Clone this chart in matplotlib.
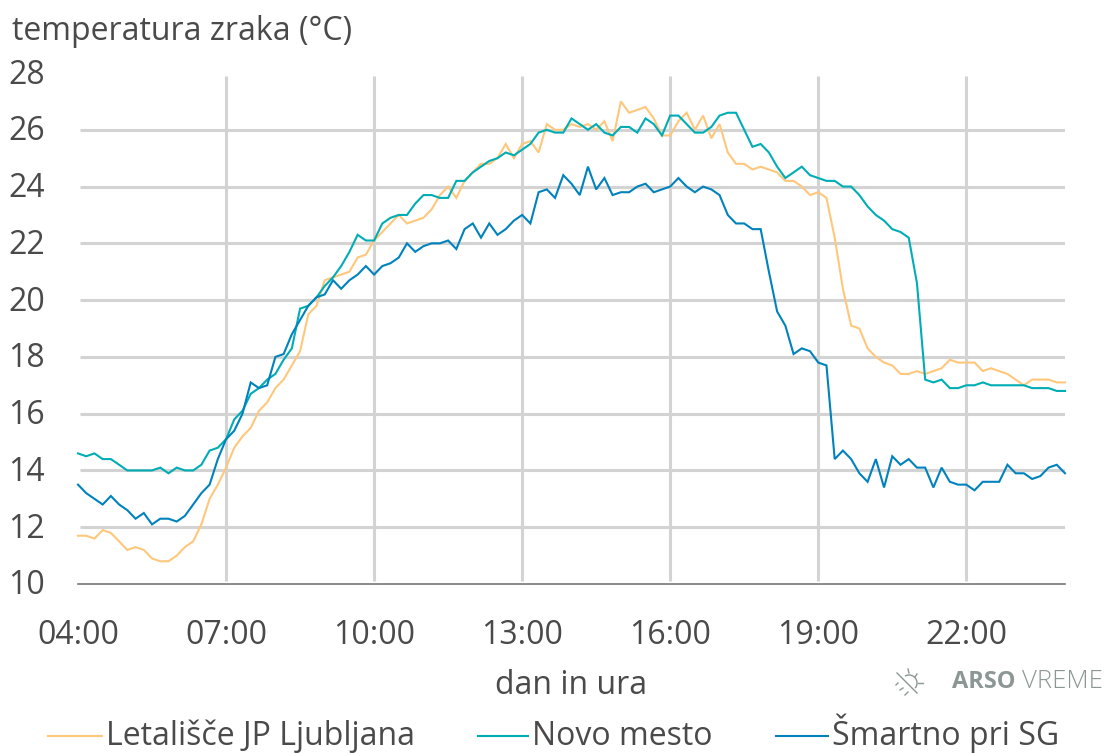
#!/usr/bin/env python
import matplotlib
matplotlib.use('Agg')
import numpy as np
import matplotlib.pyplot as plt
from matplotlib.lines import Line2D
from matplotlib.transforms import ScaledTranslation

plt.rcParams['font.family'] = ['Open Sans', 'DejaVu Sans']

# 10 minute samples, 04:00 to 24:00
ljubljana = [11.7, 11.7, 11.6, 11.9, 11.8, 11.5, 11.2, 11.3, 11.2, 10.9, 10.8, 10.8, 11.0, 11.3, 11.5, 12.1, 13.0, 13.5,
             14.1, 14.8, 15.2, 15.5, 16.1, 16.4, 16.9, 17.2, 17.7, 18.2, 19.5, 19.8, 20.7, 20.8, 20.9, 21.0, 21.5, 21.6,
             22.1, 22.4, 22.7, 23.0, 22.7, 22.8, 22.9, 23.2, 23.7, 24.0, 23.6, 24.2, 24.5, 24.8, 24.8, 25.0, 25.5, 25.0,
             25.5, 25.6, 25.2, 26.2, 26.0, 26.0, 26.2, 26.1, 26.2, 26.0, 26.3, 25.6, 27.0, 26.6, 26.7, 26.8, 26.4, 25.8,
             25.8, 26.3, 26.6, 26.0, 26.5, 25.7, 26.2, 25.2, 24.8, 24.8, 24.6, 24.7, 24.6, 24.5, 24.2, 24.2, 24.0, 23.7,
             23.8, 23.6, 22.2, 20.4, 19.1, 19.0, 18.3, 18.0, 17.8, 17.7, 17.4, 17.4, 17.5, 17.4, 17.5, 17.6, 17.9, 17.8,
             17.8, 17.8, 17.5, 17.6, 17.5, 17.4, 17.2, 17.0, 17.2, 17.2, 17.2, 17.1, 17.1]
novo_mesto = [14.6, 14.5, 14.6, 14.4, 14.4, 14.2, 14.0, 14.0, 14.0, 14.0, 14.1, 13.9, 14.1, 14.0, 14.0, 14.2, 14.7, 14.8,
              15.1, 15.8, 16.1, 16.7, 16.9, 17.2, 17.4, 17.9, 18.3, 19.7, 19.8, 20.1, 20.5, 20.8, 21.2, 21.7, 22.3, 22.1,
              22.1, 22.7, 22.9, 23.0, 23.0, 23.4, 23.7, 23.7, 23.6, 23.6, 24.2, 24.2, 24.5, 24.7, 24.9, 25.0, 25.2, 25.1,
              25.3, 25.5, 25.9, 26.0, 25.9, 25.9, 26.4, 26.2, 26.0, 26.2, 25.9, 25.8, 26.1, 26.1, 25.9, 26.4, 26.2, 25.8,
              26.5, 26.5, 26.2, 25.9, 25.9, 26.1, 26.5, 26.6, 26.6, 26.0, 25.4, 25.5, 25.2, 24.7, 24.3, 24.5, 24.7, 24.4,
              24.3, 24.2, 24.2, 24.0, 24.0, 23.7, 23.3, 23.0, 22.8, 22.5, 22.4, 22.2, 20.6, 17.2, 17.1, 17.2, 16.9, 16.9,
              17.0, 17.0, 17.1, 17.0, 17.0, 17.0, 17.0, 17.0, 16.9, 16.9, 16.9, 16.8, 16.8]
smartno = [13.5, 13.2, 13.0, 12.8, 13.1, 12.8, 12.6, 12.3, 12.5, 12.1, 12.3, 12.3, 12.2, 12.4, 12.8, 13.2, 13.5, 14.4,
           15.1, 15.4, 16.0, 17.1, 16.9, 17.0, 18.0, 18.1, 18.8, 19.3, 19.8, 20.1, 20.2, 20.7, 20.4, 20.7, 20.9, 21.2,
           20.9, 21.2, 21.3, 21.5, 22.0, 21.7, 21.9, 22.0, 22.0, 22.1, 21.8, 22.5, 22.7, 22.2, 22.7, 22.3, 22.5, 22.8,
           23.0, 22.7, 23.8, 23.9, 23.6, 24.4, 24.1, 23.7, 24.7, 23.9, 24.3, 23.7, 23.8, 23.8, 24.0, 24.1, 23.8, 23.9,
           24.0, 24.3, 24.0, 23.8, 24.0, 23.9, 23.7, 23.0, 22.7, 22.7, 22.5, 22.5, 21.0, 19.6, 19.1, 18.1, 18.3, 18.2,
           17.8, 17.7, 14.4, 14.7, 14.4, 13.9, 13.6, 14.4, 13.4, 14.5, 14.2, 14.4, 14.1, 14.1, 13.4, 14.1, 13.6, 13.5,
           13.5, 13.3, 13.6, 13.6, 13.6, 14.2, 13.9, 13.9, 13.7, 13.8, 14.1, 14.2, 13.9]
x_labels = ['04:00', '07:00', '10:00', '13:00', '16:00', '19:00', '22:00']
y_ticks = [10, 12, 14, 16, 18, 20, 22, 24, 26, 28]
names = ['Letališče JP Ljubljana', 'Novo mesto', 'Šmartno pri SG']

W, H = 1105, 753
ORANGE = '#fec77c'
TEAL = '#00adb5'
BLUE = '#0082bd'
GREY = '#d3d3d3'
TEXT = '#4a4a4a'
LOGO = '#8c9795'
FS = 23


def fx(p):
    return p / W


def fy(p):
    return 1 - p / H


fig = plt.figure(figsize=(W / 100, H / 100), dpi=100)
ax = fig.add_axes([fx(78), fy(584), (1065 - 78) / W, (584 - 73) / H])

xs = np.arange(len(smartno))
x_ticks = np.arange(len(x_labels)) * 18

# grid drawn by hand: no line at 28 or at 04:00, and short of the edges
ax.hlines(y_ticks[1:-1], 0.25, 120, color=GREY, lw=2.2, zorder=1)
ax.vlines(x_ticks[1:], 10.1, 27.9, color=GREY, lw=2.2, zorder=1)

for vals, col in zip([ljubljana, novo_mesto, smartno], [ORANGE, TEAL, BLUE]):
    ax.plot(xs, vals, color=col, lw=1.5, clip_on=False, zorder=3, solid_joinstyle='miter')

ax.set_xlim(0, 120)
ax.set_ylim(10, 28)
ax.set_xticks(x_ticks)
ax.set_xticklabels(x_labels)
ax.set_yticks(y_ticks)
ax.tick_params(length=0, labelsize=FS, labelcolor=TEXT)
ax.tick_params(axis='x', pad=25)
ax.tick_params(axis='y', pad=24)
up = ScaledTranslation(0, 2 / 100, fig.dpi_scale_trans)
for lab in ax.get_yticklabels():
    lab.set_transform(lab.get_transform() + up)
for s in ['top', 'right', 'left']:
    ax.spines[s].set_visible(False)
ax.spines['bottom'].set_color('#777777')
ax.spines['bottom'].set_linewidth(1.2)

fig.text(fx(12), fy(31), 'temperatura zraka (°C)', fontsize=FS, color=TEXT, va='center', ha='left')
fig.text(fx(571), fy(685), 'dan in ura', fontsize=FS, color=TEXT, va='center', ha='center')

# legend, placed by hand
for name, col, x0, x1 in zip(names, [ORANGE, TEAL, BLUE], [48, 478, 776], [102, 528, 828]):
    fig.add_artist(Line2D([fx(x0), fx(x1)], [fy(736), fy(736)], color=col, lw=1.5))
    fig.text(fx(x1 + 4), fy(745), name, fontsize=FS, color=TEXT, va='baseline', ha='left')

# ARSO VREME mark
fig.text(fx(952), fy(682), 'ARSO', fontsize=17, fontweight='bold', color=LOGO, va='center', ha='left')
fig.text(fx(1022), fy(682), 'VREME', fontsize=18.5, fontweight='light', color=LOGO, va='center', ha='left')
icon = [((897, 673), (917, 693)), ((908, 669), (909, 673)), ((917, 674), (915, 677)), ((923, 683), (918, 683)),
        ((896, 685), (898, 683)), ((900, 690), (903, 688)), ((905, 695), (908, 692))]
for a, b in icon:
    fig.add_artist(Line2D([fx(a[0]), fx(b[0])], [fy(a[1]), fy(b[1])], color=LOGO, lw=1))
ang = np.radians(np.linspace(-35, 115, 20))
fig.add_artist(Line2D(fx(909 + 8 * np.cos(ang)), fy(683 - 8 * np.sin(ang)), color=LOGO, lw=1))

fig.savefig('out.png', dpi=100)
